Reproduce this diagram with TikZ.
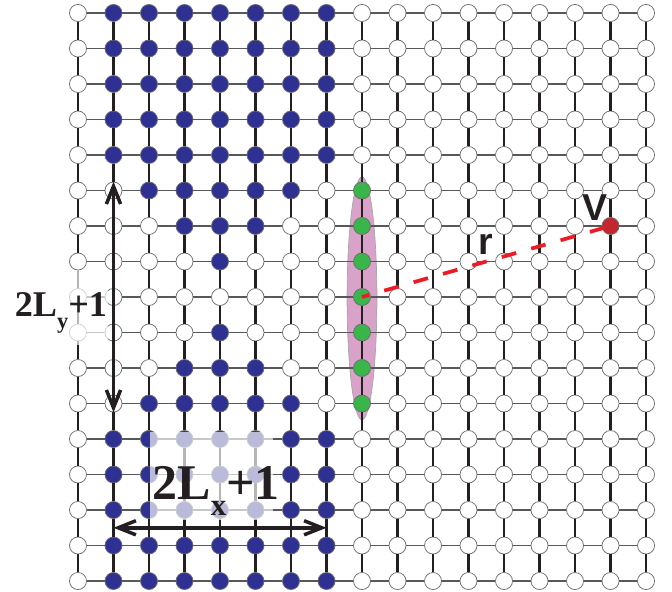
\documentclass[tikz,border=0pt]{standalone}
\usepackage{fontspec}
\setmainfont{Liberation Serif}
\setsansfont{Liberation Sans}
\usepackage{tikz}
\usetikzlibrary{arrows.meta,calc}
\definecolor{tinta}{HTML}{231F20}
\definecolor{azul}{HTML}{2E3192}
\definecolor{verde}{HTML}{39B54A}
\definecolor{rojo}{HTML}{C1272D}
\definecolor{rojoclaro}{HTML}{ED1C24}
\definecolor{rosa}{HTML}{D9A3C9}
\definecolor{borde}{HTML}{6D6E71}
\tikzset{
  sitio/.style={circle,draw=borde,line width=0.6pt,minimum size=0.48cm,inner sep=0pt},
  hlinea/.style={draw=borde!80!black,line width=1.1pt},
  vlinea/.style={draw=tinta,line width=1.7pt},
  flecha/.style={{Straight Barb[length=5mm,width=4mm]}-{Straight Barb[length=5mm,width=4mm]},line width=2.8pt,color=tinta},
  velo/.style={fill=white,fill opacity=0.67},
  etiqueta/.style={text=tinta,inner sep=0pt,anchor=base},
}
\newcommand\bajo[1]{\raisebox{-0.33em}{\scalebox{0.62}{#1}}}

\begin{document}
\begin{tikzpicture}[
  discontinua/.style={draw=rojoclaro,line width=3pt,dash pattern=on 12pt off 12.5pt,dash phase=6pt},
  letra/.style={font=\sffamily\bfseries\fontsize{30}{30}\selectfont,text=tinta,inner sep=0pt}]
  \useasboundingbox (-2.197,0.366) rectangle (16.732,-16.282);
  % franja de la cadena
  \draw[fill=rosa,draw=borde!60,line width=0.6pt] (8,-8.04) ellipse (0.42 and 3.42);
  % sitios de la red
  \foreach \c in {0,...,16}{
    \foreach \r in {0,...,16}{
      \pgfmathtruncatemacro{\esazul}{(\c>0)&&(\c<8)&&(abs(\c-4)<abs(\r-8))}
      \pgfmathtruncatemacro{\esverde}{(\c==8)&&(\r>4)&&(\r<12)}
      \pgfmathtruncatemacro{\esrojo}{(\c==15)&&(\r==6)}
      \def\relleno{white}
      \ifnum\esazul=1 \def\relleno{azul}\fi
      \ifnum\esverde=1 \def\relleno{verde}\fi
      \ifnum\esrojo=1 \def\relleno{rojo}\fi
      \node[sitio,fill=\relleno] (v-\c-\r) at (\c,-\r) {};
    }
  }
  % enlaces
  \foreach \c in {0,...,16}{
    \foreach \r in {0,...,16}{
      \pgfmathtruncatemacro{\cn}{\c+1}
      \pgfmathtruncatemacro{\rn}{\r+1}
      \ifnum\c<16 \draw[hlinea] (v-\c-\r) -- (v-\cn-\r);\fi
      \ifnum\r<16 \draw[vlinea] (v-\c-\r) -- (v-\c-\rn);\fi
    }
  }
  % velos bajo los rotulos
  \fill[velo] (2.03,-11.80) rectangle (5.49,-14.28);
  \fill[velo] (-1.80,-7.24) rectangle (0.85,-9.35);
  \node[etiqueta,font=\bfseries\fontsize{40}{40}\selectfont] (lx) at (3.89,-13.69) {2L\bajo{x}+1};
  \node[etiqueta,font=\bfseries\fontsize{29}{29}\selectfont] (ly) at (-0.48,-8.54) {2L\bajo{y}+1};
  % dimensiones
  \coordinate (ax-izq) at (1,-14.5);
  \coordinate (ax-der) at (7,-14.5);
  \draw[flecha] (ax-izq) -- (ax-der);
  \draw[flecha] (v-1-5.north) -- (v-1-11.south);
  % distancia r
  \draw[discontinua] (v-8-8.center) -- (v-15-6.center);
  \node[letra] (r) at (11.49,-6.51) {r};
  \node[letra] (V) at (14.56,-5.47) {V};
\end{tikzpicture}
\end{document}
